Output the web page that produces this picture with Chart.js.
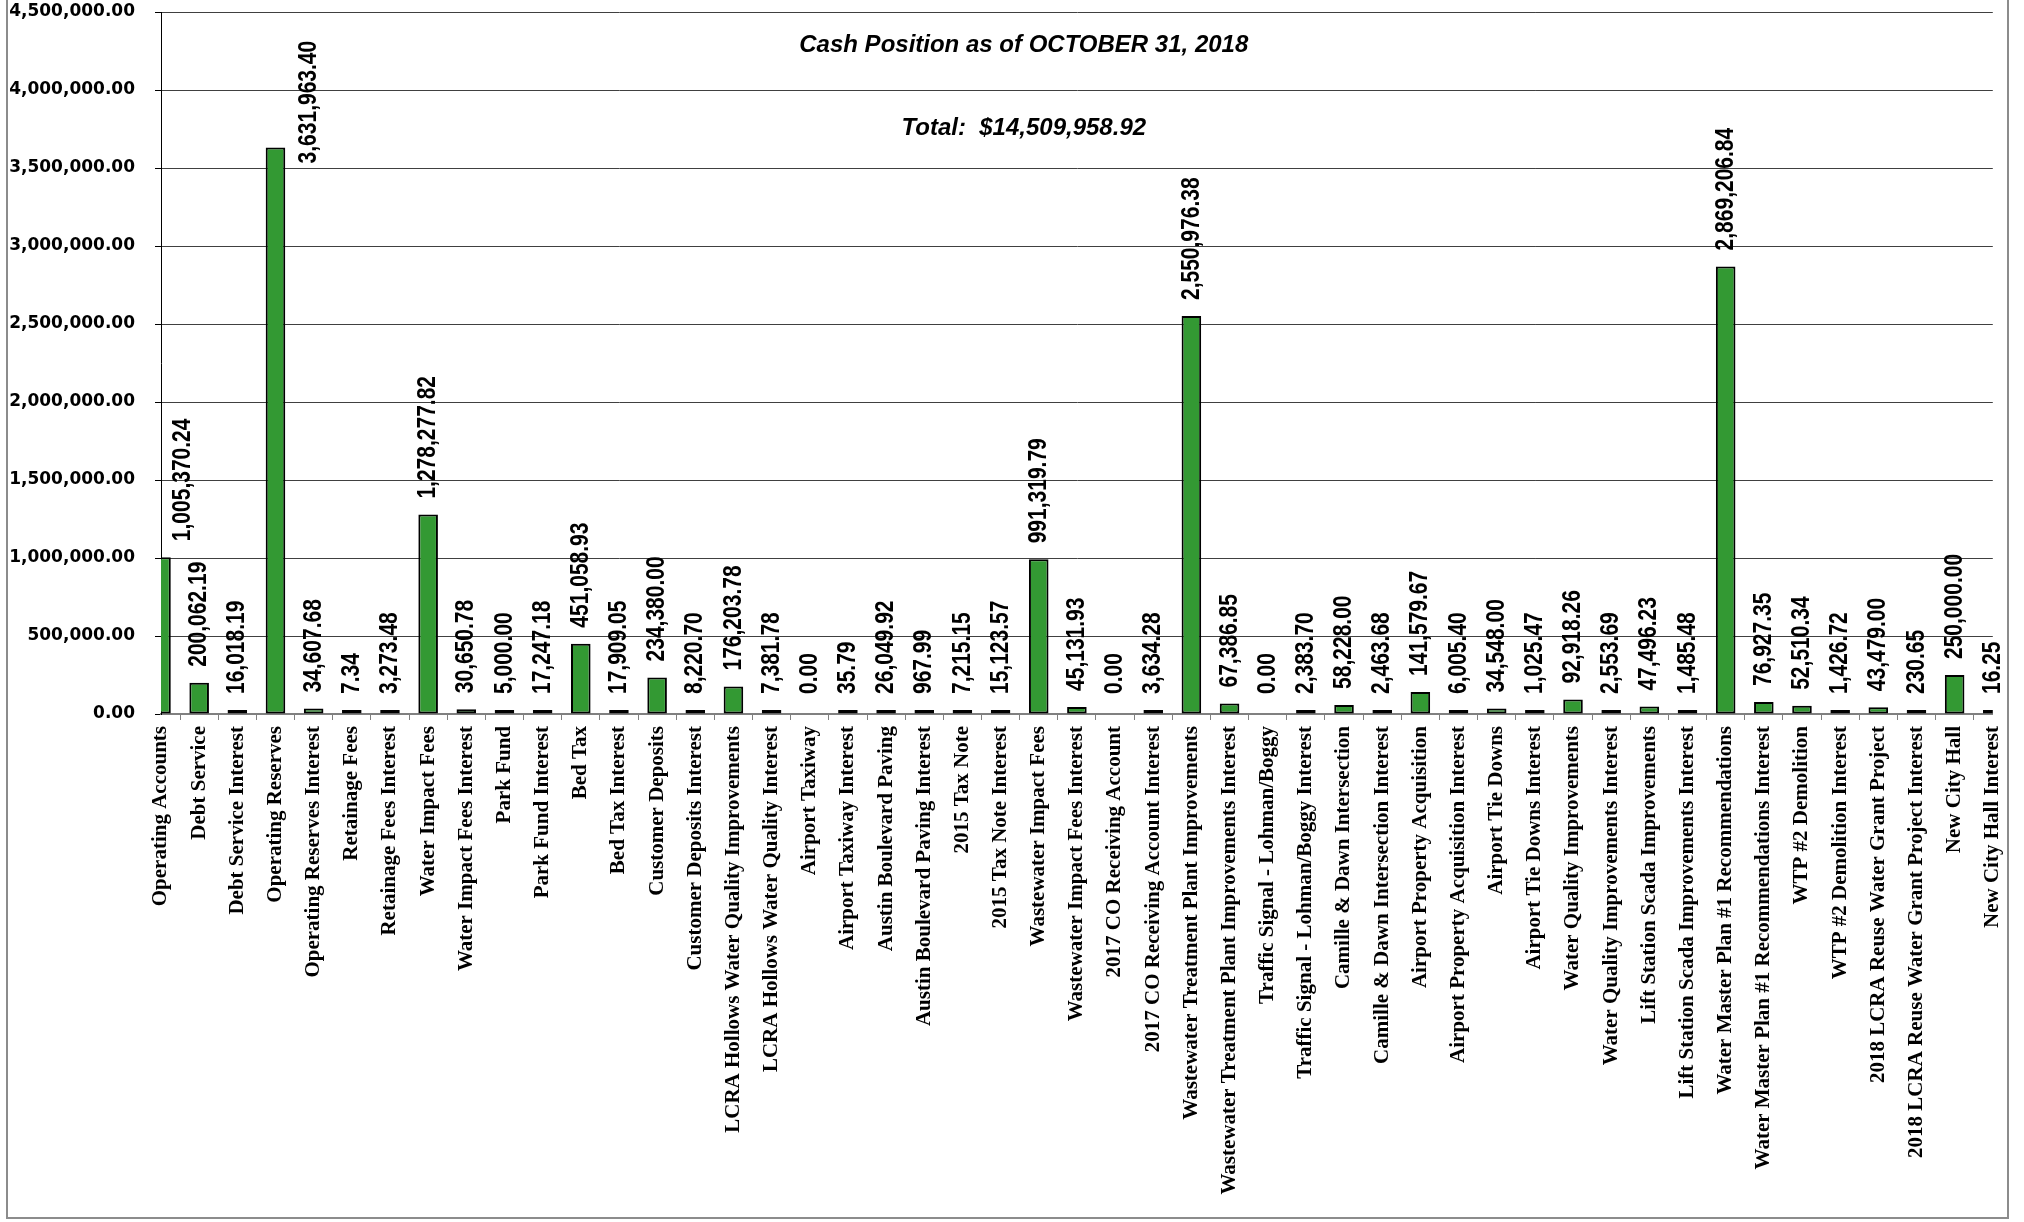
<!DOCTYPE html>
<html>
<head>
<meta charset="utf-8">
<title>Cash Position as of OCTOBER 31, 2018</title>
<script src="https://cdn.jsdelivr.net/npm/chart.js@4.4.1/dist/chart.umd.min.js"></script>
<style>
  body { margin: 0; background: #fff; }
  #wrap { width: 2024px; height: 1222px; }
</style>
</head>
<body>
<div id="wrap"><canvas id="cashChart"></canvas></div>
<script>
// DATA
var accountNames = [
    "Operating Accounts", "Debt Service", "Debt Service Interest", "Operating Reserves",
    "Operating Reserves Interest", "Retainage Fees", "Retainage Fees Interest", "Water Impact Fees",
    "Water Impact Fees Interest", "Park Fund", "Park Fund Interest", "Bed Tax", "Bed Tax Interest",
    "Customer Deposits", "Customer Deposits Interest", "LCRA Hollows Water Quality Improvements",
    "LCRA Hollows Water Quality Interest", "Airport Taxiway", "Airport Taxiway Interest",
    "Austin Boulevard Paving", "Austin Boulevard Paving Interest", "2015 Tax Note", "2015 Tax Note Interest",
    "Wastewater Impact Fees", "Wastewater Impact Fees Interest", "2017 CO Receiving Account",
    "2017 CO Receiving Account Interest", "Wastewater Treatment Plant Improvements",
    "Wastewater Treatment Plant Improvements Interest", "Traffic Signal - Lohman/Boggy",
    "Traffic Signal - Lohman/Boggy Interest", "Camille & Dawn Intersection", "Camille & Dawn Intersection Interest",
    "Airport Property Acquisition", "Airport Property Acquisition Interest", "Airport Tie Downs",
    "Airport Tie Downs Interest", "Water Quality Improvements", "Water Quality Improvements Interest",
    "Lift Station Scada Improvements", "Lift Station Scada Improvements Interest",
    "Water Master Plan #1 Recommendations", "Water Master Plan #1 Recommendations Interest",
    "WTP #2 Demolition", "WTP #2 Demolition Interest", "2018 LCRA Reuse Water Grant Project",
    "2018 LCRA Reuse Water Grant Project Interest", "New City Hall", "New City Hall Interest"
]

var balances = [
    1005370.24, 200062.19, 16018.19, 3631963.40,
    34607.68, 7.34, 3273.48, 1278277.82,
    30650.78, 5000.00, 17247.18, 451058.93, 17909.05,
    234380.00, 8220.70, 176203.78,
    7381.78, 0.00, 35.79,
    26049.92, 967.99, 7215.15, 15123.57,
    991319.79, 45131.93, 0.00,
    3634.28, 2550976.38,
    67386.85, 0.00,
    2383.70, 58228.00, 2463.68,
    141579.67, 6005.40, 34548.00,
    1025.47, 92918.26, 2553.69,
    47496.23, 1485.48,
    2869206.84, 76927.35,
    52510.34, 1426.72, 43479.00,
    230.65, 250000.00, 16.25
]

var yTickValues = [0, 500000, 1000000, 1500000, 2000000, 2500000, 3000000, 3500000, 4000000, 4500000]

var titleText = 'Cash Position as of OCTOBER 31, 2018'
var totalText = 'Total:  $14,509,958.92'

function money(v){
    return Number(v).toLocaleString('en-US', {minimumFractionDigits: 2, maximumFractionDigits: 2})
}

// value labels, titles and frame (Excel-like, text a bit stretched sideways)
var labelPlugin = {
    id: 'barLabels',
    afterDraw: function(chart){
        var ctx = chart.ctx
        var area = chart.chartArea
        var meta = chart.getDatasetMeta(0)
        ctx.save()
        ctx.font = 'bold 21px "Liberation Sans", Arial, sans-serif'
        ctx.fillStyle = '#000'
        ctx.textBaseline = 'middle'
        ctx.textAlign = 'left'
        meta.data.forEach(function(bar, i){
            var text = money(balances[i])
            var len = ctx.measureText(text).width
            var x = bar.x
            var y = bar.y - 16
            if (y - len < area.top + 20) {
                // no room above the bar: put it beside the bar
                x = bar.x + 33
                y = bar.y + 16
            }
            if (x - 12 < area.left) x = area.left + 22
            ctx.save()
            ctx.translate(x, y)
            ctx.scale(1.23, 1)
            ctx.rotate(-Math.PI / 2)
            ctx.fillText(text, 0, 0)
            ctx.restore()
        })

        ctx.font = 'italic bold 24px "Liberation Sans", Arial, sans-serif'
        ctx.textAlign = 'center'
        var cx = area.left + (area.right - area.left) * 0.471
        ctx.fillText(titleText, cx, area.top + 33)
        ctx.fillText(totalText, cx, area.top + 116)

        ctx.strokeStyle = '#8c8c8c'
        ctx.lineWidth = 2
        ctx.strokeRect(7, -2, 2001, 1220)
        ctx.restore()
    }
}

Chart.defaults.color = '#000'

let cashCanvas = document.getElementById('cashChart').getContext('2d')

let cashChart = new Chart(cashCanvas, {
    type: 'bar',
    data: {
        labels: accountNames,
        datasets: [{
            label: 'Balance',
            data: balances,
            backgroundColor: c => c.raw === 0 ? 'rgba(0,0,0,0)' : '#339933',
            borderColor: c => c.raw === 0 ? 'rgba(0,0,0,0)' : '#000000',
            borderWidth: 2,
            borderSkipped: false,
            minBarLength: 4,
            categoryPercentage: 0.57,
            barPercentage: 0.9,
            clip: 0
        }]
    },
    options: {
        responsive: true,
        maintainAspectRatio: false,
        animation: false,
        devicePixelRatio: 1,
        layout: {
            padding: { left: 9, right: 26, top: 12, bottom: 0 }
        },
        plugins: {
            legend: { display: false },
            tooltip: { enabled: false },
            title: { display: false }
        },
        scales: {
            x: {
                offset: false,
                grid: {
                    display: true,
                    drawOnChartArea: false,
                    drawTicks: true,
                    tickLength: 6,
                    color: '#808080'
                },
                border: { color: '#808080', width: 2 },
                ticks: {
                    autoSkip: false,
                    minRotation: 90,
                    maxRotation: 90,
                    padding: 6,
                    color: '#000',
                    font: { family: '"Liberation Serif", "Times New Roman", serif', weight: 'bold', size: 21 }
                },
                afterFit: s => { s.height = 508 }
            },
            y: {
                min: yTickValues[0],
                max: yTickValues[yTickValues.length - 1],
                afterBuildTicks: s => { s.ticks = yTickValues.map(v => ({ value: v })) },
                ticks: {
                    padding: 20,
                    color: '#000',
                    font: { family: '"DejaVu Sans", sans-serif', weight: 'bold', size: 17 },
                    callback: v => money(v)
                },
                grid: { color: '#404040', lineWidth: 1, tickLength: 6, tickColor: '#000' },
                border: { color: '#000', width: 1 },
                afterFit: s => {
                    s.width = 152
                    s.paddingTop = 8
                    s.paddingBottom = 8
                }
            }
        }
    },
    plugins: [labelPlugin]
})
</script>
</body>
</html>
